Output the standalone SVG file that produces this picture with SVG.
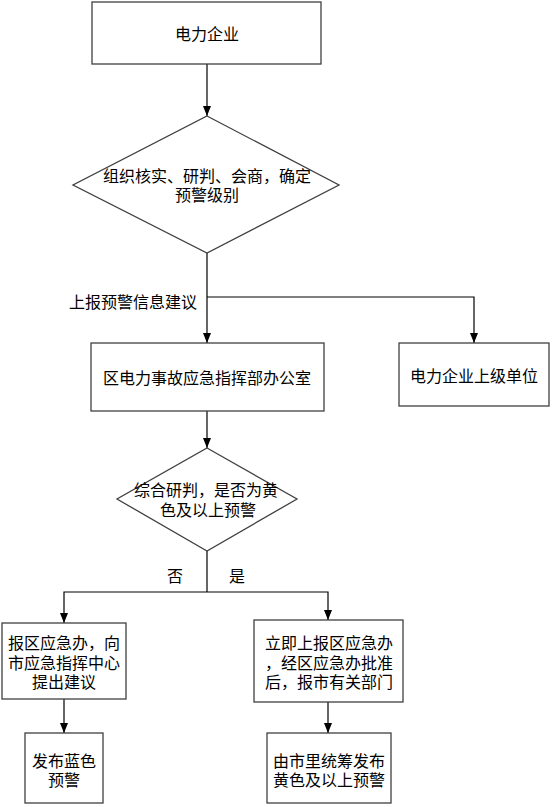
<svg xmlns="http://www.w3.org/2000/svg" width="552" height="807" viewBox="0 0 552 807">
<style>
.box{fill:#fff;stroke:#404040;stroke-width:1.3}
.t{font-family:"Noto Sans CJK SC","Liberation Sans",sans-serif;font-size:16px;fill:#000;text-anchor:middle;dominant-baseline:central}
.c{fill:none;stroke:#000;stroke-width:1.2}
</style>
<defs>
<marker id="ah" markerUnits="userSpaceOnUse" markerWidth="10" markerHeight="10" viewBox="0 0 10 10" refX="10" refY="5" orient="auto">
<path d="M0,1 L10,5 L0,9 Z" fill="#000"/>
</marker>
</defs>
<rect width="552" height="807" fill="#fff"/>
<g id="connectors">
<line class="c" x1="207" y1="64" x2="207" y2="116" marker-end="url(#ah)"/>
<line class="c" x1="207" y1="253" x2="207" y2="343" marker-end="url(#ah)"/>
<polyline class="c" points="207,297 474,297 474,343" marker-end="url(#ah)"/>
<line class="c" x1="207" y1="411" x2="207" y2="448" marker-end="url(#ah)"/>
<line class="c" x1="207" y1="551" x2="207" y2="592"/>
<polyline class="c" points="207,592 64,592 64,623" marker-end="url(#ah)"/>
<polyline class="c" points="207,592 328,592 328,620" marker-end="url(#ah)"/>
<line class="c" x1="64" y1="699" x2="64" y2="733" marker-end="url(#ah)"/>
<line class="c" x1="328" y1="702" x2="328" y2="733" marker-end="url(#ah)"/>
<text class="t" x="133" y="301">上报预警信息建议</text>
<text class="t" x="175" y="575">否</text>
<text class="t" x="237" y="575">是</text>
</g>
<g id="n1">
<rect class="box" x="92" y="2" width="229" height="62"/>
<text class="t" x="207" y="33">电力企业</text>
</g>
<g id="n2">
<polygon class="box" points="207,116 339,185 207,253 73,185"/>
<text class="t" x="207" y="175">组织核实、研判、会商，确定</text>
<text class="t" x="207" y="194">预警级别</text>
</g>
<g id="n3">
<rect class="box" x="91" y="343" width="233" height="68"/>
<text class="t" x="207" y="377">区电力事故应急指挥部办公室</text>
</g>
<g id="n4">
<rect class="box" x="399" y="343" width="150" height="63"/>
<text class="t" x="474" y="375">电力企业上级单位</text>
</g>
<g id="n5">
<polygon class="box" points="207,448 297,499 207,551 117,499"/>
<text class="t" x="206" y="489">综合研判，是否为黄</text>
<text class="t" x="208" y="509">色及以上预警</text>
</g>
<g id="n6">
<rect class="box" x="2" y="623" width="124" height="76"/>
<text class="t" x="64" y="642">报区应急办，向</text>
<text class="t" x="64" y="662">市应急指挥中心</text>
<text class="t" x="64" y="681">提出建议</text>
</g>
<g id="n7">
<rect class="box" x="254" y="620" width="149" height="82"/>
<text class="t" x="329" y="642">立即上报区应急办</text>
<text class="t" x="329" y="662">，经区应急办批准</text>
<text class="t" x="329" y="681">后，报市有关部门</text>
</g>
<g id="n8">
<rect class="box" x="25" y="733" width="78" height="70"/>
<text class="t" x="64" y="760">发布蓝色</text>
<text class="t" x="64" y="779">预警</text>
</g>
<g id="n9">
<rect class="box" x="267" y="733" width="124" height="70"/>
<text class="t" x="329" y="760">由市里统筹发布</text>
<text class="t" x="329" y="779">黄色及以上预警</text>
</g>
</svg>
